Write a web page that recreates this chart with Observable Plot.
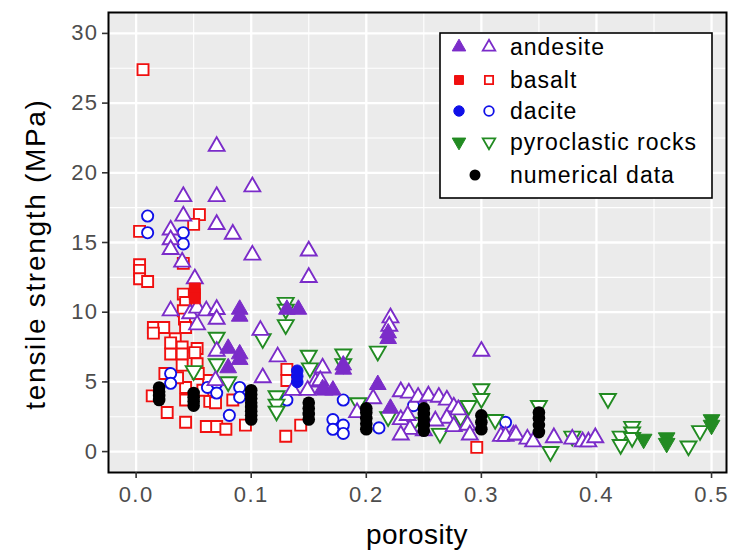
<!DOCTYPE html>
<html><head><meta charset="utf-8">
<script src="https://cdn.jsdelivr.net/npm/d3@7"></script>
<script src="https://cdn.jsdelivr.net/npm/@observablehq/plot@0.6"></script>
<style>body{margin:0;background:#fff;}</style>
</head><body><div id="chart"></div>
<script>
const xTicks = [0, 0.1, 0.2, 0.3, 0.4, 0.5];
const yTicks = [0, 5, 10, 15, 20, 25, 30];
const xMinor = [0.05, 0.15, 0.25, 0.35, 0.45];
const yMinor = [2.5, 7.5, 12.5, 17.5, 22.5, 27.5];
const xTitle = "porosity";
const yTitle = "tensile strength (MPa)";
const seriesNames = ["andesite", "basalt", "dacite", "pyroclastic rocks", "numerical data"];

const andesiteOpen = [[0.07,21.9],[0.101,19.0],[0.041,18.3],[0.07,18.3],[0.041,16.9],[0.07,16.3],[0.084,15.6],[0.03,15.9],[0.03,15.2],[0.03,14.5],[0.04,13.6],[0.101,14.1],[0.15,14.4],[0.15,12.5],[0.051,12.4],[0.03,10.1],[0.047,9.9],[0.053,10.3],[0.061,10.1],[0.07,10.2],[0.07,9.5],[0.108,8.7],[0.053,9.1],[0.07,7.2],[0.069,5.1],[0.11,5.3],[0.123,6.8],[0.136,4.4],[0.156,5.0],[0.162,6.0],[0.16,5.1],[0.149,4.4],[0.221,9.6],[0.22,9.0],[0.30,7.2],[0.23,4.3],[0.237,4.2],[0.245,3.9],[0.254,4.0],[0.263,3.9],[0.27,3.7],[0.276,3.2],[0.192,2.8],[0.206,3.8],[0.23,2.3],[0.236,2.6],[0.238,1.6],[0.23,1.2],[0.27,2.4],[0.276,1.8],[0.288,1.9],[0.29,1.2],[0.317,1.1],[0.328,1.2],[0.321,1.1],[0.33,1.2],[0.34,0.9],[0.345,0.7],[0.363,1.0],[0.379,0.9],[0.388,0.7],[0.393,0.7],[0.399,1.0],[0.25,1.5],[0.26,2.2],[0.28,3.0]];
const andesiteFilled = [[0.08,7.4],[0.09,7.0],[0.08,6.0],[0.09,6.6],[0.09,10.2],[0.09,9.7],[0.131,10.2],[0.141,10.2],[0.164,4.4],[0.219,8.1],[0.219,8.5],[0.18,6.2],[0.18,5.9],[0.162,4.5],[0.171,4.4],[0.21,4.8],[0.221,3.1]];
const basaltOpen = [[0.006,27.4],[0.003,15.8],[0.055,17.0],[0.05,16.3],[0.041,13.5],[0.003,13.4],[0.003,13.0],[0.003,12.4],[0.01,12.2],[0.041,11.3],[0.043,10.7],[0.041,10.1],[0.042,9.5],[0.043,8.9],[0.015,8.9],[0.024,8.9],[0.015,8.5],[0.034,8.1],[0.04,7.5],[0.053,7.4],[0.03,7.0],[0.04,7.0],[0.051,7.1],[0.053,6.3],[0.04,6.2],[0.025,5.6],[0.014,4.0],[0.043,4.6],[0.043,3.7],[0.027,2.8],[0.043,2.1],[0.061,1.8],[0.07,1.8],[0.078,1.6],[0.095,1.9],[0.064,3.6],[0.058,4.4],[0.063,5.1],[0.054,5.6],[0.036,5.3],[0.069,3.5],[0.084,3.7],[0.131,5.9],[0.131,5.1],[0.143,1.9],[0.13,1.1],[0.296,0.3],[0.03,7.8]];
const basaltFilled = [[0.051,11.7],[0.051,11.3],[0.051,11.0]];
const daciteOpen = [[0.01,16.9],[0.01,15.7],[0.041,15.7],[0.041,14.9],[0.03,5.6],[0.03,4.9],[0.062,4.6],[0.07,4.9],[0.07,4.2],[0.09,4.6],[0.09,3.9],[0.081,2.6],[0.131,3.7],[0.18,3.7],[0.171,2.3],[0.171,1.6],[0.18,1.9],[0.18,1.3],[0.211,1.7],[0.241,3.3],[0.321,2.1]];
const daciteFilled = [[0.14,5.0],[0.14,5.4],[0.14,5.8]];
const pyroOpen = [[0.13,10.7],[0.13,10.2],[0.13,9.1],[0.07,8.2],[0.11,8.1],[0.07,6.3],[0.08,5.0],[0.05,5.8],[0.15,6.9],[0.151,6.0],[0.122,4.0],[0.122,3.4],[0.122,2.9],[0.18,7.0],[0.18,6.3],[0.21,7.2],[0.193,3.5],[0.219,2.5],[0.241,2.1],[0.264,1.3],[0.282,2.5],[0.289,3.3],[0.30,4.5],[0.30,3.8],[0.312,2.3],[0.35,3.3],[0.36,0.0],[0.379,1.1],[0.41,3.8],[0.421,1.1],[0.421,0.5],[0.431,1.8],[0.431,1.4],[0.431,1.0],[0.48,0.4],[0.49,1.5]];
const pyroFilled = [[0.441,0.9],[0.461,1.0],[0.461,0.6],[0.50,2.3],[0.50,1.9]];
const numerical = [[0.02,3.7],[0.02,4.0],[0.02,4.3],[0.02,4.6],[0.05,3.3],[0.05,3.6],[0.05,3.9],[0.05,4.2],[0.1,2.3],[0.1,2.6],[0.1,2.9],[0.1,3.2],[0.1,3.5],[0.1,3.8],[0.1,4.1],[0.1,4.4],[0.15,2.3],[0.15,2.7],[0.15,3.1],[0.15,3.5],[0.2,1.6],[0.2,2.0],[0.2,2.4],[0.2,2.8],[0.2,3.1],[0.25,1.5],[0.25,1.9],[0.25,2.3],[0.25,2.7],[0.25,3.1],[0.3,1.6],[0.3,2.1],[0.3,2.6],[0.35,1.4],[0.35,1.9],[0.35,2.4],[0.35,2.8]];

const PURPLE = "#7b2cc9", RED = "#f01010", BLUE = "#1010e8", GREEN = "#228b22";
const FONT = "Liberation Sans, Arial, Helvetica, sans-serif";
const X = d => d[0], Y = d => d[1];

const openDot = (data, symbol, r, color, extra = {}) =>
  Plot.dot(data, {x: X, y: Y, symbol, r, fill: "white", stroke: color, strokeWidth: 1.9, ...extra});
const fillDot = (data, symbol, r, color, extra = {}) =>
  Plot.dot(data, {x: X, y: Y, symbol, r, fill: color, stroke: color, strokeWidth: 1, ...extra});

const chart = Plot.plot({
  width: 731, height: 551,
  marginLeft: 108, marginTop: 12, marginBottom: 79, marginRight: 5,
  x: {domain: [-0.024, 0.513]},
  y: {domain: [-1.5, 31.5]},
  style: {fontFamily: FONT, background: "white", overflow: "visible", letterSpacing: "1.4px"},
  marks: [
    Plot.frame({fill: "#EBEBEB"}),
    Plot.ruleX(xMinor, {stroke: "white", strokeWidth: 1.1}),
    Plot.ruleY(yMinor, {stroke: "white", strokeWidth: 1.1}),
    Plot.ruleX(xTicks, {stroke: "white", strokeWidth: 2.3}),
    Plot.ruleY(yTicks, {stroke: "white", strokeWidth: 2.3}),
    openDot(basaltOpen, "square", 6.2, RED),
    openDot(daciteOpen, "circle", 5.6, BLUE),
    openDot(pyroOpen, "triangle", 5.9, GREEN, {rotate: 180}),
    openDot(andesiteOpen, "triangle", 5.9, PURPLE),
    fillDot(basaltFilled, "square", 6.2, RED),
    fillDot(daciteFilled, "circle", 5.8, BLUE),
    fillDot(pyroFilled, "triangle", 6.2, GREEN, {rotate: 180}),
    fillDot(andesiteFilled, "triangle", 6.2, PURPLE),
    Plot.dot(numerical, {x: X, y: Y, r: 6.3, fill: "black"}),
    Plot.frame({stroke: "black", strokeWidth: 2}),
    Plot.axisX({ticks: xTicks, tickFormat: d3.format(".1f"), tickSize: 6, tickPadding: 8, fontSize: 22, color: "#4d4d4d", stroke: "#333", strokeWidth: 1.6, label: null}),
    Plot.axisY({ticks: yTicks, tickSize: 6, tickPadding: 4, fontSize: 22, color: "#4d4d4d", stroke: "#333", strokeWidth: 1.6, label: null})
  ]
});
document.getElementById("chart").appendChild(chart);

const svg = d3.select(chart);
svg.append("text").attr("x", 417).attr("y", 544).attr("text-anchor", "middle")
  .attr("font-family", FONT).attr("font-size", 28).attr("letter-spacing", "0.5px").attr("fill", "black").text(xTitle);
svg.append("text").attr("transform", "translate(45,254) rotate(-90)").attr("text-anchor", "middle")
  .attr("font-family", FONT).attr("font-size", 28).attr("letter-spacing", "1.7px").attr("fill", "black").text(yTitle);

// legend inside the panel
const lg = svg.append("g").attr("transform", "translate(440,33)");
lg.append("rect").attr("width", 272).attr("height", 165).attr("fill", "white").attr("stroke", "black").attr("stroke-width", 1.6);
const rowY = [14, 47, 78, 109, 142];
const legendSpec = [
  {sym: d3.symbolTriangle, color: PURPLE, rot: 0, size: 80},
  {sym: d3.symbolSquare, color: RED, rot: 0, size: 80},
  {sym: d3.symbolCircle, color: BLUE, rot: 0, size: 85},
  {sym: d3.symbolTriangle, color: GREEN, rot: 180, size: 80}
];
legendSpec.forEach((s, i) => {
  lg.append("path").attr("d", d3.symbol(s.sym, s.size)()).attr("transform", `translate(19,${rowY[i]}) rotate(${s.rot})`)
    .attr("fill", s.color).attr("stroke", s.color).attr("stroke-width", 1);
  lg.append("path").attr("d", d3.symbol(s.sym, s.size * 0.85)()).attr("transform", `translate(49,${rowY[i]}) rotate(${s.rot})`)
    .attr("fill", "white").attr("stroke", s.color).attr("stroke-width", 1.8);
});
lg.append("circle").attr("cx", 35).attr("cy", rowY[4]).attr("r", 5.5).attr("fill", "black");
seriesNames.forEach((n, i) => {
  lg.append("text").attr("x", 70).attr("y", rowY[i]).attr("dy", "0.35em").attr("text-anchor", "start")
    .attr("font-family", FONT).attr("font-size", 23).attr("letter-spacing", "1px").attr("fill", "black").text(n);
});
</script>
</body></html>
